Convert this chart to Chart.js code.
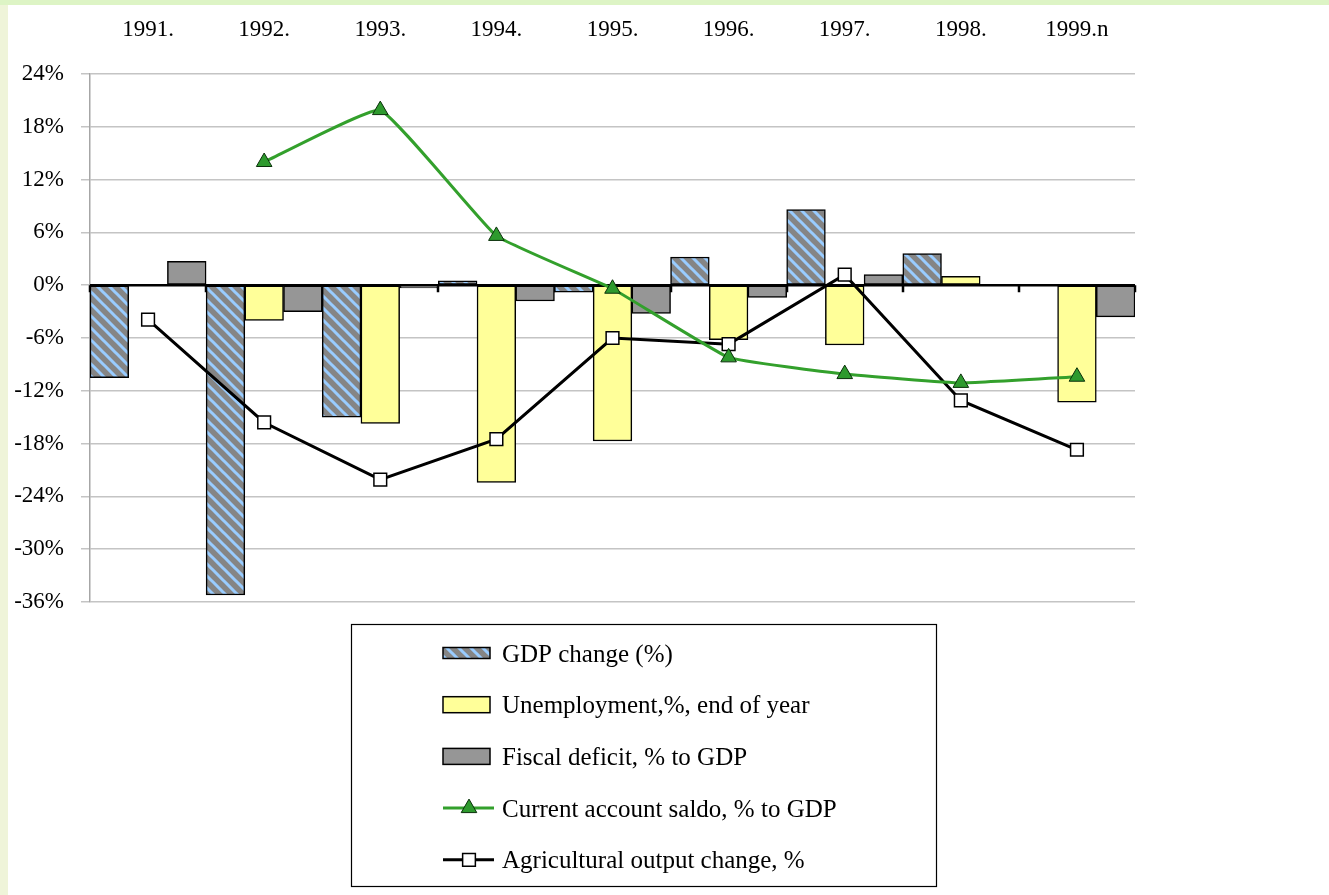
<!DOCTYPE html>
<html>
<head>
<meta charset="utf-8">
<script src="https://cdn.jsdelivr.net/npm/chart.js@4.4.1/dist/chart.umd.min.js"></script>
<style>
  html, body { margin: 0; padding: 0; }
  body { width: 1329px; height: 895px; background: #eff4d9; position: relative; overflow: hidden; }
  #faixa { position: absolute; left: 0; top: 0; width: 1329px; height: 5px; background: #ddf4c5; }
  #caixa { position: absolute; left: 8px; top: 5px; width: 1321px; height: 890px; background: #fff; }
</style>
</head>
<body>
<div id="faixa"></div>
<div id="caixa"><canvas id="grafico" width="1321" height="890"></canvas></div>
<script>
const anos = ['1991.', '1992.', '1993.', '1994.', '1995.', '1996.', '1997.', '1998.', '1999.n'];

const pib = [-10.5, -35.2, -15.0, 0.5, -0.8, 3.2, 8.6, 3.6, null];
const desemprego = [null, -4.0, -15.7, -22.4, -17.7, -6.2, -6.8, 1.0, -13.3];
const deficitFiscal = [2.7, -3.0, -0.3, -1.8, -3.2, -1.4, 1.2, null, -3.6];
const contaCorrente = [null, 14.0, 19.9, 5.6, -0.4, -8.2, -10.1, -11.1, -10.4];
const agricultura = [-3.9, -15.6, -22.1, -17.5, -6.0, -6.7, 1.2, -13.1, -18.7];

const fonte = "'Times New Roman', 'Liberation Serif', serif";

// hachura azul sobre cinza para o PIB
function criarHachura() {
    const c = document.createElement('canvas');
    c.width = 12;
    c.height = 12;
    const g = c.getContext('2d');
    g.fillStyle = '#858585';
    g.fillRect(0, 0, 12, 12);
    g.strokeStyle = '#99ccff';
    g.lineWidth = 3;
    g.beginPath();
    g.moveTo(-3, -3); g.lineTo(15, 15);
    g.moveTo(-3, 9); g.lineTo(3, 15);
    g.moveTo(9, -3); g.lineTo(15, 3);
    g.stroke();
    return g.createPattern(c, 'repeat');
}

// linha do zero com os tracinhos entre as categorias
const linhaZero = {
    id: 'linhaZero',
    beforeDatasetsDraw(chart) {
        const ctx = chart.ctx;
        const area = chart.chartArea;
        const y0 = chart.scales.y.getPixelForValue(0);
        const x = chart.scales.x;
        const passo = x.getPixelForValue(1) - x.getPixelForValue(0);
        ctx.save();
        ctx.strokeStyle = '#000';
        ctx.lineWidth = 2.5;
        ctx.beginPath();
        ctx.moveTo(area.left, y0);
        ctx.lineTo(area.right, y0);
        for (let i = 0; i <= anos.length; i++) {
            const xi = Math.round(x.getPixelForValue(0) - passo / 2 + i * passo);
            ctx.moveTo(xi, y0);
            ctx.lineTo(xi, y0 + 7);
        }
        ctx.stroke();
        ctx.restore();
    }
};

const legendaCaixa = {
    id: 'legendaCaixa',
    afterDraw(chart) {
        const ctx = chart.ctx;
        ctx.save();
        ctx.strokeStyle = '#000';
        ctx.lineWidth = 1.2;
        ctx.strokeRect(343.5, 619.5, 585, 262);
        ctx.font = '25px ' + fonte;
        ctx.textBaseline = 'middle';
        ctx.textAlign = 'left';
        chart.data.datasets.forEach((ds, i) => {
            const y = 648 + i * 51.7;
            if (ds.type === 'line') {
                ctx.strokeStyle = ds.borderColor;
                ctx.lineWidth = 3;
                ctx.beginPath();
                ctx.moveTo(435, y);
                ctx.lineTo(486, y);
                ctx.stroke();
                ctx.fillStyle = ds.pointBackgroundColor;
                ctx.strokeStyle = ds.pointBorderColor;
                ctx.lineWidth = ds.pointBorderWidth;
                Chart.helpers.drawPoint(ctx, {
                    pointStyle: ds.pointStyle,
                    radius: ds.pointRadius,
                    borderWidth: ds.pointBorderWidth,
                    rotation: 0
                }, 461, y);
            } else {
                const h = i === 0 ? 11 : 16;
                ctx.fillStyle = ds.backgroundColor;
                ctx.fillRect(435, y - h / 2, 47, h);
                ctx.strokeStyle = '#000';
                ctx.lineWidth = 1.5;
                ctx.strokeRect(435, y - h / 2, 47, h);
            }
            ctx.fillStyle = '#000';
            ctx.fillText(ds.label, 494, y + 2);
        });
        ctx.restore();
    }
};

const ctxGrafico = document.getElementById('grafico').getContext('2d');
const grafico = new Chart(ctxGrafico, {
    type: 'bar',
    data: {
        labels: anos,
        datasets: [
            {
                label: 'GDP change (%)',
                data: pib,
                backgroundColor: criarHachura(),
                borderColor: '#000',
                borderWidth: 1.5,
                borderSkipped: false,
                order: 1
            },
            {
                label: 'Unemployment,%, end of year',
                data: desemprego,
                backgroundColor: '#ffff99',
                borderColor: '#000',
                borderWidth: 1.5,
                borderSkipped: false,
                order: 1
            },
            {
                label: 'Fiscal deficit, % to GDP',
                data: deficitFiscal,
                backgroundColor: '#969696',
                borderColor: '#000',
                borderWidth: 1.5,
                borderSkipped: false,
                order: 1
            },
            {
                type: 'line',
                label: 'Current account saldo, % to GDP',
                data: contaCorrente,
                borderColor: '#33a02c',
                borderWidth: 3,
                tension: 0.1,
                pointStyle: 'triangle',
                pointRadius: 9,
                pointBackgroundColor: '#2e9a2e',
                pointBorderColor: '#0a300a',
                pointBorderWidth: 1,
                order: 0
            },
            {
                type: 'line',
                label: 'Agricultural output change, %',
                data: agricultura,
                borderColor: '#000',
                borderWidth: 3,
                tension: 0,
                pointStyle: 'rect',
                pointRadius: 9,
                pointBackgroundColor: '#fff',
                pointBorderColor: '#000',
                pointBorderWidth: 1.5,
                order: 0
            }
        ]
    },
    options: {
        responsive: false,
        animation: false,
        devicePixelRatio: 1,
        layout: { padding: { left: 0, right: 194, top: 2, bottom: 293 } },
        datasets: {
            bar: { categoryPercentage: 1, barPercentage: 1 }
        },
        plugins: {
            legend: { display: false },
            tooltip: { enabled: false }
        },
        scales: {
            x: {
                position: 'top',
                grid: { display: false, drawTicks: false },
                border: { display: false },
                ticks: { color: '#000', font: { family: fonte, size: 23 }, padding: 30, maxRotation: 0 },
                afterFit: s => { s.height = 67; }
            },
            y: {
                min: -36,
                max: 24,
                ticks: {
                    stepSize: 6,
                    callback: v => v + '%',
                    color: '#000',
                    font: { family: fonte, size: 23 },
                    padding: 17
                },
                grid: { color: '#c4c4c4', lineWidth: 1.5, tickLength: 9 },
                border: { color: '#a6a6a6', width: 1.5 },
                afterFit: s => { s.width = 82; }
            }
        }
    },
    plugins: [linhaZero, legendaCaixa]
});
</script>
</body>
</html>
